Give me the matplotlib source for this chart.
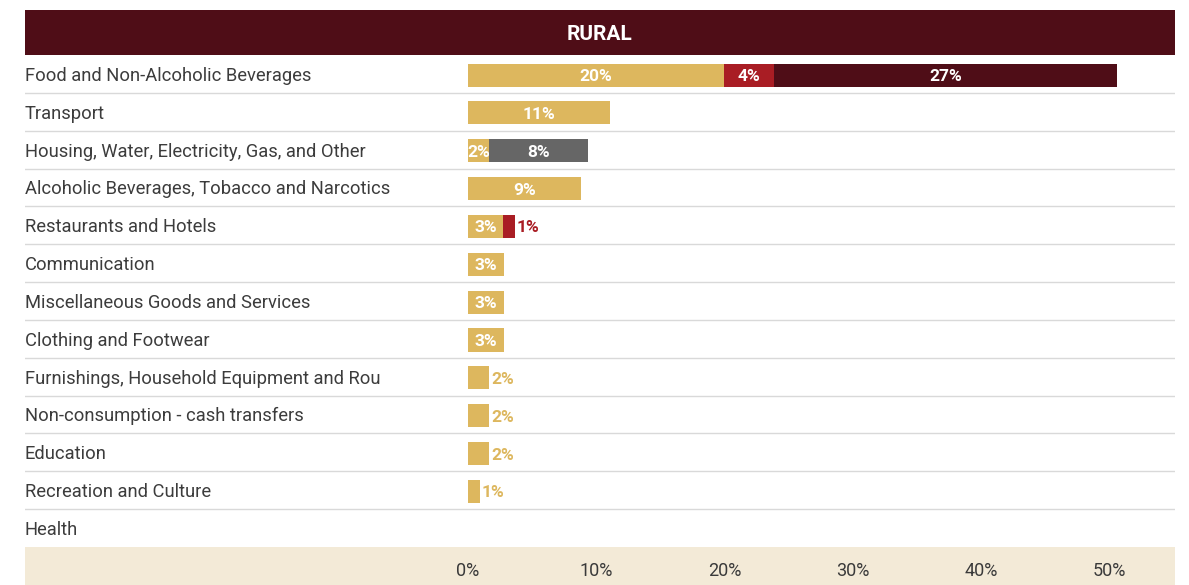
import matplotlib
matplotlib.use("Agg")
import matplotlib.pyplot as plt
import matplotlib.transforms as mtransforms

plt.rcParams["font.family"] = ["Roboto", "DejaVu Sans"]

categories = [
    "Food and Non-Alcoholic Beverages",
    "Transport",
    "Housing, Water, Electricity, Gas, and Other",
    "Alcoholic Beverages, Tobacco and Narcotics",
    "Restaurants and Hotels",
    "Communication",
    "Miscellaneous Goods and Services",
    "Clothing and Footwear",
    "Furnishings, Household Equipment and Rou",
    "Non-consumption - cash transfers",
    "Education",
    "Recreation and Culture",
    "Health",
]
gold_vals   = [20.0, 11.1, 1.67, 8.84, 2.71, 2.84, 2.84, 2.84, 1.67, 1.67, 1.67, 0.94, 0.0]
red_vals    = [3.9, 0, 0, 0, 0.94, 0, 0, 0, 0, 0, 0, 0, 0]
grey_vals   = [0, 0, 7.69, 0, 0, 0, 0, 0, 0, 0, 0, 0, 0]
maroon_vals = [26.7, 0, 0, 0, 0, 0, 0, 0, 0, 0, 0, 0, 0]
x_ticks = [0, 10, 20, 30, 40, 50]
title = "RURAL"

GOLD = "#DDB75E"
RED = "#A91D24"
GREY = "#666666"
MAROON = "#4F0D17"
BAND = "#F3EAD7"
LINE = "#D9D9D9"
TEXT = "#3C3C3C"

W, H = 1189, 585
fig = plt.figure(figsize=(W / 100, H / 100), dpi=100)
fig.patch.set_facecolor("white")

left_px, right_px = 25, 1175
zero_px, px_per_pct = 468, 12.82
xlo = (left_px - zero_px) / px_per_pct
xhi = (right_px - zero_px) / px_per_pct

# Title strip
hdr = fig.add_axes([left_px / W, 1 - 55 / H, (right_px - left_px) / W, 45 / H])
hdr.set_facecolor(MAROON)
hdr.set_xticks([]); hdr.set_yticks([])
for s in hdr.spines.values():
    s.set_visible(False)
hdr.text(0.5, 0.46, title, transform=hdr.transAxes, ha="center", va="center",
         color="white", fontsize=15, fontweight="bold")

# Main bar area
ax = fig.add_axes([left_px / W, 1 - 547 / H, (right_px - left_px) / W, (547 - 55) / H])
ax.set_xlim(xlo, xhi)
n = len(categories)
ax.set_ylim(n - 0.5, -0.5)
ax.axis("off")

for i in range(n - 1):
    ax.axhline(i + 0.5, color=LINE, lw=1.0, zorder=1)

blend = mtransforms.blended_transform_factory(ax.transAxes, ax.transData)
for i, c in enumerate(categories):
    ax.text(0.0, i + 0.05, c, transform=blend, ha="left", va="center",
            fontsize=13.2, color=TEXT)

series = [(gold_vals, GOLD), (red_vals, RED), (grey_vals, GREY), (maroon_vals, MAROON)]
bar_h = 0.61
bar_off = 0.03
lab_off = 0.07
for i in range(n):
    segs = [(vals[i], col) for vals, col in series if vals[i] > 0]
    start = 0.0
    for k, (v, col) in enumerate(segs):
        ax.barh(i + bar_off, v, left=start, height=bar_h, color=col, zorder=2, linewidth=0)
        label = f"{round(v):.0f}%"
        last = k == len(segs) - 1
        if last and v < 2.5:
            ax.text(start + v + 0.15, i + lab_off, label, ha="left", va="center",
                    color=col, fontsize=12.5, fontweight="bold", zorder=3)
        else:
            ax.text(start + v / 2, i + lab_off, label, ha="center", va="center",
                    color="white", fontsize=12.5, fontweight="bold", zorder=3)
        start += v

# Axis band with percentage ticks
band = fig.add_axes([left_px / W, 0, (right_px - left_px) / W, 38 / H])
band.set_facecolor(BAND)
band.set_xlim(xlo, xhi)
band.set_ylim(0, 1)
band.set_xticks([]); band.set_yticks([])
for s in band.spines.values():
    s.set_visible(False)
for t in x_ticks:
    band.text(t, 0.36, f"{t}%", ha="center", va="center", fontsize=13,
              color="#3A3A3A")

fig.savefig("out.png", dpi=100, facecolor="white")
